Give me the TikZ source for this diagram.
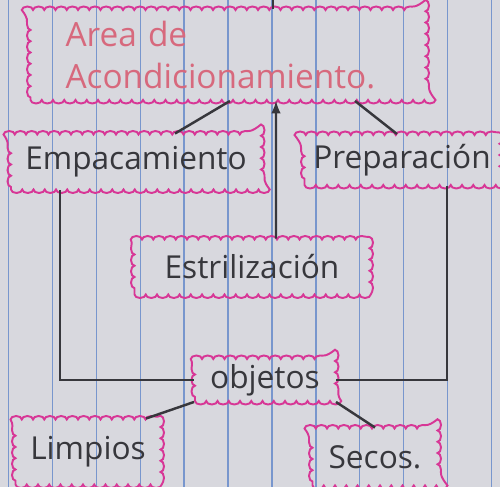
\documentclass[tikz,border=0pt]{standalone}
\usepackage{fontspec}
\setmainfont{Open Sans}
\usepackage{tikz}
\usetikzlibrary{calc}
\usetikzlibrary{decorations.pathmorphing}
\usetikzlibrary{positioning}

\definecolor{paper}{RGB}{216,216,222}
\definecolor{rule}{RGB}{120,150,205}
\definecolor{puff}{RGB}{215,55,150}
\definecolor{ink}{RGB}{55,55,60}
\definecolor{redink}{RGB}{215,105,125}

\begin{document}
\begin{tikzpicture}
[
	cloudbox/.style	= {rectangle, draw = puff, line width = 1.1pt, inner sep = 0cm, text = ink,
		font = \fontsize{18}{21}\selectfont, decorate,
		decoration = {bumps, mirror, segment length = 0.45cm, amplitude = 0.07cm}},
	link/.style	= {draw = ink, line width = 1.4pt},
]

	\useasboundingbox [fill = paper] (0,0) rectangle (10,9.74);
	\foreach \i in {0,...,11}
		\draw [rule, line width = 0.8pt] (0.17+0.878*\i, 0) -- (0.17+0.878*\i, 9.74);

	\node (acond) [cloudbox, minimum width = 7.9cm, minimum height = 1.8cm, align = left,
		text = redink, text width = 6.5cm, font = \fontsize{19}{24}\selectfont] at (4.56, 8.64) {Area de\\Acondicionamiento.};
	%
	\node (empac) [cloudbox, minimum width = 5.0cm, minimum height = 1.1cm] at (2.72, 6.50) {Empacamiento};
	\node (prep) [cloudbox, minimum width = 3.9cm, minimum height = 1.0cm] at (8.04, 6.54) {Preparación};
	\node (estr) [cloudbox, minimum width = 4.7cm, minimum height = 1.1cm] at (5.04, 4.40) {Estrilización};
	%
	\node (obj) [cloudbox, minimum width = 2.8cm, minimum height = 0.84cm] at (5.30, 2.14) {objetos};
	\node (limp) [cloudbox, minimum width = 2.9cm, minimum height = 1.3cm] at (1.76, 0.70) {Limpios};
	\node (secos) [cloudbox, minimum width = 2.5cm, minimum height = 1.14cm] at (7.50, 0.60) {Secos.};

	\coordinate (up) at (5.46, 9.74);
	\draw [link] (up |- acond.north) -- (up);

	\draw [link] ($(acond.south)+(0.04,0)$) -- ($(empac.north)+(0.78,0)$);
	\draw [link, -latex] ($(estr.north)+(0.48,0)$) -- ($(acond.south)+(0.96,0)$);
	\draw [link] ($(acond.south)+(2.54,0)$) -- ($(prep.north)+(-0.1,0)$);

	\draw [link] ($(empac.south)+(-1.52,0)$) |- (obj.west);
	\draw [link] ($(prep.south)+(0.9,0)$) |- (obj.east);

	\draw [link] (obj.south west) -- (limp.30);
	\draw [link] (obj.south east) -- (secos.north);

\end{tikzpicture}
\end{document}
